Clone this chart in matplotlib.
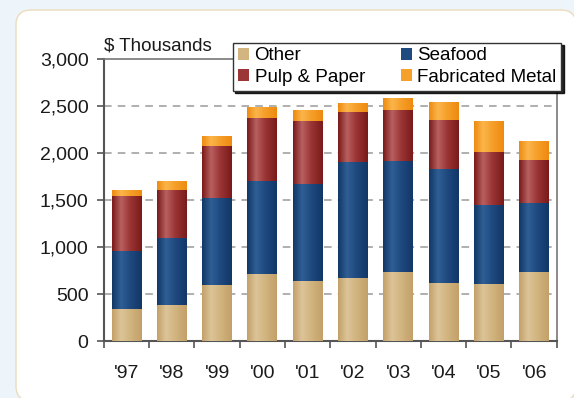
import numpy as np
import matplotlib.pyplot as plt
from matplotlib.colors import LinearSegmentedColormap
from matplotlib.patches import FancyBboxPatch, Patch
from matplotlib.transforms import IdentityTransform

plt.rcParams['font.family'] = ['Liberation Sans', 'DejaVu Sans']

years = ["'97", "'98", "'99", "'00", "'01", "'02", "'03", "'04", "'05", "'06"]
other = [340, 380, 600, 710, 640, 670, 730, 620, 610, 730]
seafood = [620, 720, 920, 990, 1030, 1230, 1180, 1210, 840, 740]
pulp = [580, 510, 550, 670, 670, 540, 550, 520, 560, 460]
metal = [70, 90, 110, 120, 120, 90, 120, 190, 330, 200]
yticks = [0, 500, 1000, 1500, 2000, 2500, 3000]

# name, values, (edge, highlight, mid) colours for the cylinder shading
series = [
    ('Other', other, ('#c3a068', '#dcc498', '#d2b580')),
    ('Seafood', seafood, ('#123767', '#2f5f95', '#1f4a80')),
    ('Pulp & Paper', pulp, ('#7a1a1a', '#b86060', '#9c3636')),
    ('Fabricated Metal', metal, ('#ee8a10', '#fbb54a', '#f5a02a')),
]

fig = plt.figure(figsize=(5.74, 3.98), dpi=100)
fig.patch.set_facecolor('#eef5fa')

# white rounded card behind the chart (pixel coordinates)
panel = FancyBboxPatch((16, -3), 560, 391, transform=IdentityTransform(),
                       boxstyle='round,pad=0,rounding_size=15',
                       facecolor='white', edgecolor='#eadcbc', lw=1.0,
                       zorder=-5)
fig.patches.append(panel)

ax = fig.add_axes([0.181, 0.143, 0.789, 0.709])
ax.set_facecolor('none')

x = np.arange(len(years))
bottom = np.zeros(len(years))
handles = {}
for name, vals, (dark, light, mid) in series:
    vals = np.array(vals, dtype=float)
    bars = ax.bar(x, vals, width=0.66, bottom=bottom, color=mid,
                  edgecolor='none', zorder=2)
    cmap = LinearSegmentedColormap.from_list(
        name, [(0, dark), (0.3, light), (0.6, mid), (1, dark)])
    grad = np.linspace(0, 1, 64).reshape(1, -1)
    for b in bars:
        x0, y0 = b.get_x(), b.get_y()
        im = ax.imshow(grad, cmap=cmap, aspect='auto', zorder=3,
                       extent=(x0, x0 + b.get_width(), y0, y0 + b.get_height()))
        im.set_clip_path(b)
    bottom += vals
    handles[name] = Patch(facecolor=mid, edgecolor='none')

ax.set_xlim(-0.5, len(years) - 0.5)
ax.set_ylim(0, 3000)
ax.set_yticks(yticks)
ax.set_yticklabels([f'{v:,}' for v in yticks])
ax.set_xticks(x)
ax.set_xticklabels(years)
ax.set_xticks(np.arange(len(years) + 1) - 0.5, minor=True)
ax.tick_params(axis='x', which='major', length=0, pad=17)
ax.tick_params(axis='x', which='minor', length=5, width=1.2,
               direction='out', color='#555555')
ax.tick_params(axis='y', length=5, width=1.2, color='#555555', pad=6)
ax.tick_params(labelsize=14, labelcolor='#1a1a1a')

for y in yticks[1:-1]:
    ax.axhline(y, color='#9a9a9a', lw=1.1, ls=(0, (5, 4)), zorder=1)

for side in ['left', 'bottom']:
    ax.spines[side].set_color('#555555')
    ax.spines[side].set_linewidth(1.5)
for side in ['top', 'right']:
    ax.spines[side].set_color('#777777')
    ax.spines[side].set_linewidth(1.2)

ax.text(0.0, 1.015, r'\$ Thousands', transform=ax.transAxes,
        ha='left', va='bottom', fontsize=13.5, color='#1a1a1a')

order = ['Other', 'Pulp & Paper', 'Seafood', 'Fabricated Metal']
leg = fig.legend([handles[n] for n in order], order, ncol=2,
                 loc='upper left', bbox_to_anchor=(0.406, 0.893),
                 frameon=True, fancybox=False,
                 shadow={'ox': 1.5, 'oy': -1.5, 'shade': 1.0, 'alpha': 0.85},
                 fontsize=13.5,
                 handlelength=0.6, handleheight=0.6, handletextpad=0.3,
                 columnspacing=1.9, labelspacing=0.25, borderpad=0.25,
                 borderaxespad=0)
leg.get_frame().set_edgecolor('#333333')
leg.get_frame().set_linewidth(1.0)

fig.savefig('out.png', dpi=100)
